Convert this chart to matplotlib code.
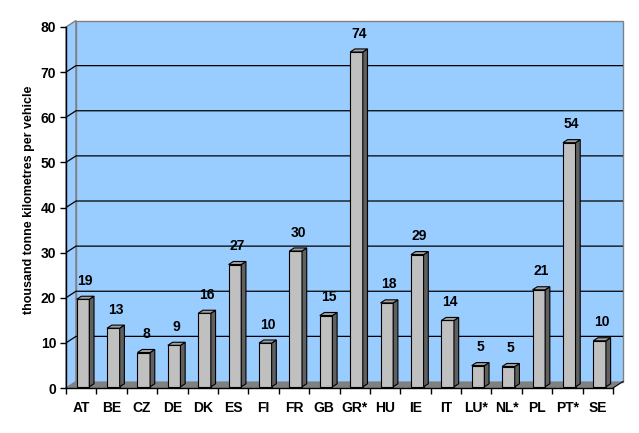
import matplotlib
matplotlib.use("Agg")
import matplotlib.pyplot as plt
from matplotlib.patches import Polygon
from matplotlib import font_manager

categories = ["AT", "BE", "CZ", "DE", "DK", "ES", "FI", "FR", "GB", "GR*",
              "HU", "IE", "IT", "LU*", "NL*", "PL", "PT*", "SE"]
values = [19.4, 13.0, 7.6, 9.2, 16.3, 27.1, 9.7, 30.1, 15.8, 74.2,
          18.6, 29.3, 14.7, 4.7, 4.5, 21.5, 54.1, 10.2]
labels = ["19", "13", "8", "9", "16", "27", "10", "30", "15", "74",
          "18", "29", "14", "5", "5", "21", "54", "10"]
yticks = [0, 10, 20, 30, 40, 50, 60, 70, 80]
ylabel = "thousand tonne kilometres per vehicle"

fam = "Liberation Sans"
try:
    font_manager.findfont("Liberation Sans Narrow", fallback_to_default=False)
    fam = "Liberation Sans Narrow"
except Exception:
    pass
plt.rcParams["font.family"] = [fam, "DejaVu Sans"]

W, H = 639, 433
fig = plt.figure(figsize=(W / 100, H / 100), dpi=100)
ax = fig.add_axes([66 / W, (H - 388) / H, (613 - 66) / W, (388 - 27) / H])
n = len(categories)
ax.set_xlim(0, n)
ax.set_ylim(0, 80)
ax.set_facecolor("none")

dx, dy = 0.329, 1.44      # depth offset (category units, value units)
wall = "#99CCFF"
edge_grey = "#808080"

# left wall
ax.add_patch(Polygon([(0, 0), (0, 80), (dx, 80 + dy), (dx, dy)], closed=True,
                     facecolor=wall, edgecolor=edge_grey, lw=1, clip_on=False, zorder=0))
# back wall
ax.add_patch(Polygon([(dx, dy), (dx, 80 + dy), (n + dx, 80 + dy), (n + dx, dy)], closed=True,
                     facecolor=wall, edgecolor=edge_grey, lw=1, clip_on=False, zorder=0))
# gridlines
for v in yticks[1:-1]:
    ax.plot([0, dx, n + dx], [v, v + dy, v + dy], color="black", lw=0.9,
            clip_on=False, zorder=1, solid_capstyle="butt")
# floor
ax.add_patch(Polygon([(0, 0), (n, 0), (n + dx, dy), (dx, dy)], closed=True,
                     facecolor="#808080", edgecolor="none", clip_on=False, zorder=2))
ax.plot([n, n + dx], [0, dy], color="black", lw=0.8, clip_on=False, zorder=2)

# bars
w = 0.415
f, b = 0.18, 0.65
for i, (v, lab) in enumerate(zip(values, labels)):
    c = i + 0.5
    x0 = c - w / 2 + f * dx
    x1 = c + w / 2 + f * dx
    bx0 = c - w / 2 + b * dx
    bx1 = c + w / 2 + b * dx
    y0 = f * dy
    yb = b * dy
    front = Polygon([(x0, y0), (x1, y0), (x1, v + y0), (x0, v + y0)], closed=True,
                    facecolor="#C0C0C0", edgecolor="black", lw=0.8, clip_on=False, zorder=3)
    side = Polygon([(x1, y0), (bx1, yb), (bx1, v + yb), (x1, v + y0)], closed=True,
                   facecolor="#606060", edgecolor="black", lw=0.8, clip_on=False, zorder=3)
    top = Polygon([(x0, v + y0), (x1, v + y0), (bx1, v + yb), (bx0, v + yb)], closed=True,
                  facecolor="#A0A0A0", edgecolor="black", lw=0.8, clip_on=False, zorder=3)
    for p in (front, side, top):
        ax.add_patch(p)
    ax.text(c + (f + b) / 2 * dx, v + y0 + 4.1, lab, ha="center", va="center",
            fontsize=10, fontweight="bold", zorder=4)

# axes
for s in ("top", "right"):
    ax.spines[s].set_visible(False)
for s in ("left", "bottom"):
    ax.spines[s].set_color("black")
    ax.spines[s].set_linewidth(1)
    ax.spines[s].set_zorder(5)

ax.set_yticks(yticks)
ax.set_yticklabels([str(t) for t in yticks], fontsize=10, fontweight="bold")
ax.set_xticks(range(n + 1), minor=False)
ax.set_xticklabels([""] * (n + 1))
ax.set_xticks([i + 0.5 for i in range(n)], minor=True)
ax.set_xticklabels(categories, minor=True, fontsize=10, fontweight="bold")
ax.tick_params(axis="x", which="major", direction="out", length=4, width=1, color="black")
ax.tick_params(axis="x", which="minor", length=0, pad=9)
ax.tick_params(axis="y", direction="out", length=4, width=1, pad=3)

ax.set_ylabel(ylabel, fontsize=9, fontweight="bold")
ax.yaxis.set_label_coords(-31 / (613 - 66), 0.52)

fig.savefig("out.png", dpi=100)
